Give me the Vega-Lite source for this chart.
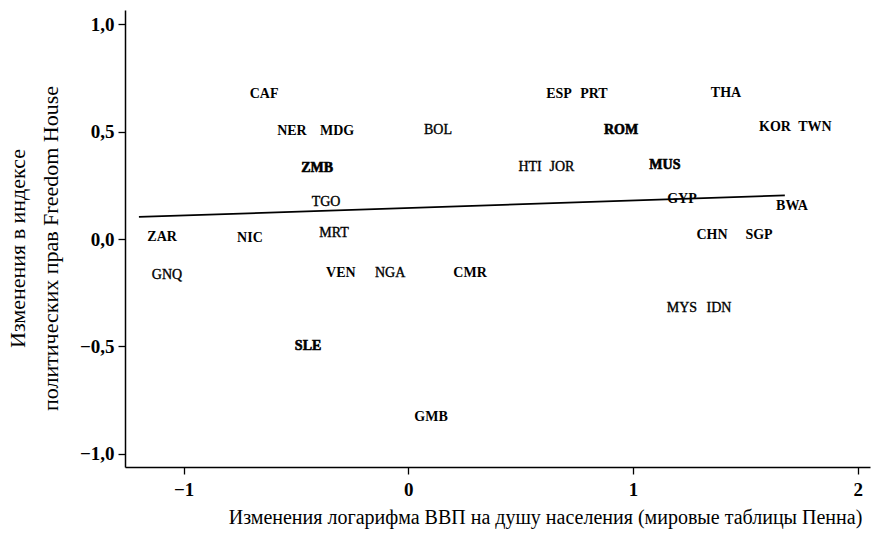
{
  "$schema": "https://vega.github.io/schema/vega-lite/v6.json",
  "width": 745,
  "height": 457,
  "autosize": {"type": "none"},
  "padding": {"left": 125, "top": 10, "right": 9, "bottom": 77},
  "background": "white",
  "config": {
    "view": {"stroke": null},
    "font": "Liberation Serif",
    "axis": {
      "grid": false,
      "domainColor": "black",
      "domainWidth": 1.5,
      "tickColor": "black",
      "tickWidth": 1.3,
      "tickSize": 7,
      "labelFont": "Liberation Serif",
      "labelFontSize": 19,
      "labelFontWeight": "bold",
      "labelColor": "black",
      "titleFont": "Liberation Serif",
      "titleFontSize": 20,
      "titleFontWeight": "normal",
      "titleColor": "black"
    }
  },
  "datasets": {
    "countries": [
      {"code": "CAF", "x": -0.642, "y": 0.676},
      {"code": "NER", "x": -0.518, "y": 0.503},
      {"code": "MDG", "x": -0.317, "y": 0.503},
      {"code": "BOL", "x": 0.132, "y": 0.508},
      {"code": "ZMB", "x": -0.406, "y": 0.331},
      {"code": "TGO", "x": -0.366, "y": 0.172},
      {"code": "ZAR", "x": -1.096, "y": 0.009},
      {"code": "NIC", "x": -0.705, "y": 0.005},
      {"code": "MRT", "x": -0.331, "y": 0.028},
      {"code": "GNQ", "x": -1.074, "y": -0.168},
      {"code": "VEN", "x": -0.3, "y": -0.158},
      {"code": "NGA", "x": -0.081, "y": -0.158},
      {"code": "SLE", "x": -0.446, "y": -0.499},
      {"code": "GMB", "x": 0.101, "y": -0.829},
      {"code": "ESP", "x": 0.671, "y": 0.676},
      {"code": "PRT", "x": 0.826, "y": 0.676},
      {"code": "THA", "x": 1.414, "y": 0.68},
      {"code": "ROM", "x": 0.947, "y": 0.508},
      {"code": "KOR", "x": 1.632, "y": 0.522},
      {"code": "TWN", "x": 1.81, "y": 0.522},
      {"code": "HTI", "x": 0.542, "y": 0.336},
      {"code": "JOR", "x": 0.684, "y": 0.336},
      {"code": "MUS", "x": 1.142, "y": 0.345},
      {"code": "GYP", "x": 1.218, "y": 0.186},
      {"code": "BWA", "x": 1.708, "y": 0.154},
      {"code": "CHN", "x": 1.352, "y": 0.019},
      {"code": "SGP", "x": 1.561, "y": 0.019},
      {"code": "CMR", "x": 0.275, "y": -0.158},
      {"code": "MYS", "x": 1.218, "y": -0.322},
      {"code": "IDN", "x": 1.383, "y": -0.322}
    ],
    "fit": [
      {"x": -1.199, "y": 0.103},
      {"x": 1.676, "y": 0.203}
    ]
  },
  "encoding": {
    "x": {
      "field": "x",
      "type": "quantitative",
      "scale": {"domain": [-1.261, 2.055], "nice": false, "zero": false},
      "axis": {
        "values": [-1, 0, 1, 2],
        "format": "d",
        "labelPadding": 6,
        "title": "Изменения логарифма ВВП на душу населения (мировые таблицы Пенна)",
        "titleAlign": "center",
        "titleBaseline": "middle",
        "titleX": 420,
        "titleY": 50
      }
    },
    "y": {
      "field": "y",
      "type": "quantitative",
      "scale": {"domain": [-1.062, 1.067], "nice": false, "zero": false},
      "axis": {
        "values": [-1, -0.5, 0, 0.5, 1],
        "format": ".1f",
        "labelExpr": "replace(datum.label, '.', ',')",
        "labelPadding": 4,
        "title": ["Изменения в индексе", "политических прав Freedom House"],
        "titleFontSize": 22,
        "titleAngle": -90,
        "titleAlign": "center",
        "titleBaseline": "middle",
        "titleLineHeight": 33,
        "titleX": -108,
        "titleY": 238
      }
    }
  },
  "layer": [
    {
      "data": {"name": "fit"},
      "mark": {"type": "line", "color": "black", "strokeWidth": 1.7}
    },
    {
      "data": {"name": "countries"},
      "transform": [
        {"filter": "indexof(['GNQ','BOL','HTI','JOR','TGO','MRT','NGA','MYS','IDN'], datum.code) >= 0"}
      ],
      "mark": {"type": "text", "align": "center", "baseline": "middle", "fontSize": 14, "font": "Liberation Serif", "color": "black", "stroke": "black", "strokeWidth": 0.35},
      "encoding": {"text": {"field": "code"}}
    },
    {
      "data": {"name": "countries"},
      "transform": [
        {"filter": "indexof(['GNQ','BOL','HTI','JOR','TGO','MRT','NGA','MYS','IDN','ZMB','SLE','ROM','MUS'], datum.code) < 0"}
      ],
      "mark": {"type": "text", "align": "center", "baseline": "middle", "fontSize": 14, "fontWeight": "bold", "font": "Liberation Serif", "color": "black"},
      "encoding": {"text": {"field": "code"}}
    },
    {
      "data": {"name": "countries"},
      "transform": [
        {"filter": "indexof(['ZMB','SLE','ROM','MUS'], datum.code) >= 0"}
      ],
      "mark": {"type": "text", "align": "center", "baseline": "middle", "fontSize": 14, "fontWeight": "bold", "font": "Liberation Serif", "color": "black", "stroke": "black", "strokeWidth": 0.6},
      "encoding": {"text": {"field": "code"}}
    }
  ]
}
